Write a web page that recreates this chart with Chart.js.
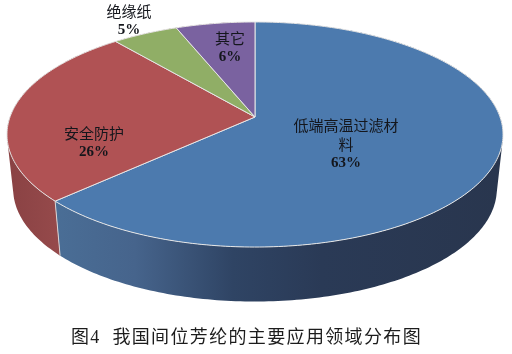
<!DOCTYPE html>
<html>
<head>
<meta charset="utf-8">
<script src="https://cdn.jsdelivr.net/npm/chart.js@4"></script>
<style>
  html, body { margin: 0; padding: 0; background: #fff; }
  #wrap { position: relative; width: 512px; height: 354px; overflow: hidden; }
  #caption {
    position: absolute; left: 71px; top: 325px; white-space: nowrap; color: #1c1c1c;
    font: 18px "Liberation Serif", "Noto Sans CJK SC", serif; letter-spacing: 1.35px; line-height: 24px;
  }
</style>
</head>
<body>
<div id="wrap">
  <canvas id="pie" width="512" height="354"></canvas>
  <div id="caption">图4&nbsp;&nbsp;我国间位芳纶的主要应用领域分布图</div>
</div>
<script>
const categories = ['低端高温过滤材料', '安全防护', '绝缘纸', '其它'];
const shares = [63, 26, 5, 6];
const topColors = ['#4c7aae', '#b05254', '#90ae66', '#7a62a0'];

// where each label sits, centre of its first line, and line height
const labelSpots = [[346, 125], [94, 133], [129, 11], [230, 38]];
const labelLine = 19;
const wrapAt = 7;

// the "camera": turns the flat pie into the tilted disc
const view = { cx: 255, cy: 117, a: 245, b: 91.6, k: 0.1556, depth: 54.5, shrink: 0.975 };

function project(angle) {
    const u = Math.cos(angle), v = Math.sin(angle);
    const w = 1 - view.k * v;
    return { x: view.cx + view.a * u / w, y: (view.cy + view.b * v) / w };
}

function lowerRim(p) {
    return { x: view.cx + (p.x - view.cx) * view.shrink, y: p.y + view.depth };
}

function sideFill(ctx, index) {
    // side wall shading, only the two big slices show it
    if (index === 0) {
        const g = ctx.createLinearGradient(55, 0, 500, 0);
        g.addColorStop(0, '#4a6e96');
        g.addColorStop(0.18, '#46648c');
        g.addColorStop(0.4, '#2f4464');
        g.addColorStop(0.6, '#2a3a56');
        g.addColorStop(1, '#29364e');
        return g;
    }
    const g = ctx.createLinearGradient(10, 0, 60, 0);
    g.addColorStop(0, '#8a4244');
    g.addColorStop(1, '#964a4b');
    return g;
}

const tiltedPie = {
    id: 'tiltedPie',
    beforeDatasetsDraw(chart) {
        const ctx = chart.ctx;
        const arcs = chart.getDatasetMeta(0).data;
        const steps = a => Math.max(8, Math.ceil((a.endAngle - a.startAngle) * 60));

        // side walls: all strips of a slice in one path, same winding, so no seams show
        arcs.forEach((arc, i) => {
            const n = steps(arc);
            ctx.beginPath();
            let prev = project(arc.startAngle);
            for (let s = 1; s <= n; s++) {
                const p = project(arc.startAngle + (arc.endAngle - arc.startAngle) * s / n);
                const a = lowerRim(prev), b = lowerRim(p);
                const quad = [prev, p, b, a];
                let area = 0;
                quad.forEach((q, j) => {
                    const r = quad[(j + 1) % 4];
                    area += q.x * r.y - r.x * q.y;
                });
                if (area < 0) quad.reverse();
                quad.forEach((q, j) => j ? ctx.lineTo(q.x, q.y) : ctx.moveTo(q.x, q.y));
                ctx.closePath();
                prev = p;
            }
            ctx.fillStyle = sideFill(ctx, i);
            ctx.fill();
        });

        // seam between the blue and red walls
        const seamTop = project(arcs[0].endAngle), seamLow = lowerRim(seamTop);
        ctx.beginPath();
        ctx.moveTo(seamTop.x, seamTop.y);
        ctx.lineTo(seamLow.x, seamLow.y);
        ctx.strokeStyle = '#d8d4d4';
        ctx.lineWidth = 1;
        ctx.stroke();

        // top faces
        arcs.forEach(arc => {
            const n = steps(arc);
            ctx.beginPath();
            ctx.moveTo(view.cx, view.cy);
            for (let s = 0; s <= n; s++) {
                const p = project(arc.startAngle + (arc.endAngle - arc.startAngle) * s / n);
                ctx.lineTo(p.x, p.y);
            }
            ctx.closePath();
            ctx.fillStyle = arc.options.backgroundColor;
            ctx.fill();
            ctx.strokeStyle = arc.options.borderColor;
            ctx.lineWidth = arc.options.borderWidth;
            ctx.stroke();
        });

        // labels
        ctx.textAlign = 'center';
        ctx.textBaseline = 'middle';
        ctx.fillStyle = '#14161c';
        categories.forEach((name, i) => {
            const lines = [];
            for (let c = 0; c < name.length; c += wrapAt) lines.push(name.slice(c, c + wrapAt));
            const [x, y] = labelSpots[i];
            ctx.font = '15px "Noto Sans CJK SC", sans-serif';
            lines.forEach((line, j) => ctx.fillText(line, x, y + j * labelLine));
            ctx.font = 'bold 15px "Liberation Serif", serif';
            ctx.fillText(shares[i] + '%', x, y + lines.length * labelLine);
        });
        return false;
    }
};

new Chart(document.getElementById('pie'), {
    type: 'pie',
    data: {
        labels: categories,
        datasets: [{
            data: shares,
            backgroundColor: topColors,
            borderColor: '#e6e6e6',
            borderWidth: 1
        }]
    },
    options: {
        responsive: false,
        animation: false,
        plugins: { legend: { display: false }, tooltip: { enabled: false } }
    },
    plugins: [tiltedPie]
});
</script>
</body>
</html>
